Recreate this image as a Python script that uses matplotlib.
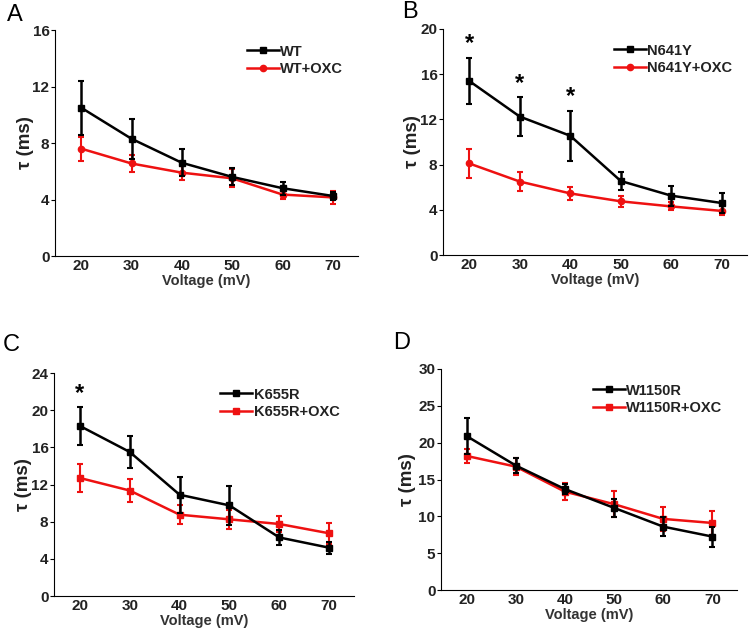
import matplotlib
matplotlib.use("Agg")
import matplotlib.pyplot as plt
from matplotlib.lines import Line2D

plt.rcParams['font.family'] = ['Liberation Sans', 'DejaVu Sans']

voltage = [20, 30, 40, 50, 60, 70]

# Panel A
wt = [10.5, 8.3, 6.6, 5.6, 4.8, 4.25]
wt_err = [1.9, 1.4, 0.95, 0.6, 0.45, 0.3]
wt_oxc = [7.6, 6.55, 5.9, 5.5, 4.35, 4.15]
wt_oxc_err = [0.85, 0.6, 0.5, 0.65, 0.3, 0.45]

# Panel B
n641y = [15.4, 12.25, 10.55, 6.55, 5.25, 4.6]
n641y_err = [2.05, 1.7, 2.2, 0.8, 0.9, 0.9]
n641y_oxc = [8.1, 6.5, 5.45, 4.75, 4.3, 3.9]
n641y_oxc_err = [1.25, 0.85, 0.55, 0.5, 0.35, 0.4]

# Panel C
k655r = [18.3, 15.5, 10.9, 9.75, 6.3, 5.2]
k655r_err = [2.0, 1.7, 1.95, 2.1, 0.8, 0.65]
k655r_oxc = [12.7, 11.35, 8.75, 8.25, 7.75, 6.75]
k655r_oxc_err = [1.55, 1.2, 1.05, 1.0, 0.9, 1.1]

# Panel D
w1150r = [20.9, 16.9, 13.7, 11.15, 8.6, 7.25]
w1150r_err = [2.4, 1.0, 0.7, 1.25, 1.25, 1.35]
w1150r_oxc = [18.2, 16.75, 13.35, 11.65, 9.65, 9.1]
w1150r_oxc_err = [1.0, 1.15, 1.2, 1.8, 1.6, 1.6]

RED = "#ee1111"

# label, axes box (px), letter pos (px), ylabel x (px), names/data, ymax, step, red marker, stars
panels = [
    ("A", [55, 30, 358, 256], (7, 15), 34, "WT", wt, wt_err, wt_oxc, wt_oxc_err, 16, 4, "o", []),
    ("B", [443, 29, 747, 255], (402, 12), 421, "N641Y", n641y, n641y_err, n641y_oxc, n641y_oxc_err, 20, 4, "o", [20, 30, 40]),
    ("C", [54, 373, 354, 596], (3, 345), 32, "K655R", k655r, k655r_err, k655r_oxc, k655r_oxc_err, 24, 4, "s", [20]),
    ("D", [441, 369, 737, 590], (393, 343), 416, "W1150R", w1150r, w1150r_err, w1150r_oxc, w1150r_oxc_err, 30, 5, "s", []),
]

W, H = 750, 628
fig = plt.figure(figsize=(7.5, 6.28), dpi=100)

for label, box, lpos, ylx, name, y1, e1, y2, e2, ymax, step, rmark, stars in panels:
    x0, y0, x1, y1px = box
    ax = fig.add_axes([x0 / W, 1 - y1px / H, (x1 - x0) / W, (y1px - y0) / H])
    ax.errorbar(voltage, y1, yerr=e1, color="black", lw=1.8, marker="s", ms=4.5,
                capsize=2.5, elinewidth=1.8, capthick=1.5, zorder=3)
    ax.errorbar(voltage, y2, yerr=e2, color=RED, lw=1.8, marker=rmark, ms=4.5,
                capsize=2.5, elinewidth=1.5, capthick=1.5, zorder=2)
    for v in stars:
        i = voltage.index(v)
        ax.text(v, y1[i] + e1[i] + ymax * 0.012, "*", ha="center", va="bottom",
                fontsize=17, fontweight="bold")
    ax.set_xlim(14.8, 75)
    ax.set_ylim(0, ymax)
    ax.set_xticks(voltage)
    ax.set_yticks(range(0, ymax + 1, step))
    ax.spines["top"].set_visible(False)
    ax.spines["right"].set_visible(False)
    ax.tick_params(axis="x", length=0, pad=2)
    ax.tick_params(axis="y", length=3, pad=1)
    for t in ax.get_xticklabels() + ax.get_yticklabels():
        t.set_fontweight("bold")
        t.set_fontsize(11)
        t.set_color("#222222")
    ax.set_xlabel("Voltage (mV)", fontsize=10.5, fontweight="bold", labelpad=1, color="#333333")
    ax.set_ylabel("τ (ms)", fontsize=13.5, fontweight="bold", color="#222222")
    ax.yaxis.set_label_coords((ylx - x0) / (x1 - x0), 0.5)
    handles = [
        Line2D([], [], color="black", lw=1.8, marker="s", ms=4.5),
        Line2D([], [], color=RED, lw=1.8, marker=rmark, ms=4.5),
    ]
    leg = ax.legend(handles, [name, name + "+OXC"], loc="upper right", frameon=False,
                    fontsize=10.5, handlelength=2.2, handletextpad=0.1,
                    borderaxespad=0.6, labelspacing=0.25)
    for t in leg.get_texts():
        t.set_fontweight("bold")
        t.set_color("#222222")
    fig.text(lpos[0] / W, 1 - lpos[1] / H, label, fontsize=17, ha="left", va="center")

fig.savefig("out.png", dpi=100)
